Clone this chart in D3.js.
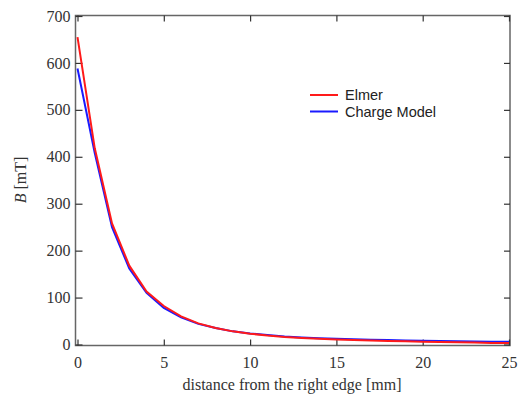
<!DOCTYPE html>
<html><head><meta charset="utf-8">
<script src="https://cdn.jsdelivr.net/npm/d3@7"></script>
<style>body{margin:0;background:#fff}svg{display:block}</style>
</head><body>
<svg id="c" width="521" height="396"></svg>
<script>
const distance = [0,1,2,3,4,5,6,7,8,9,10,11,12,13,14,15,16,17,18,19,20,21,22,23,24,25];
const elmer = [655,418,258,168,113,82,60,45,35,28,23,19,16,14,12,10.5,9.5,8.5,7.5,6.8,6,5.2,4.6,4,3.4,3];
const chargeModel = [588,408,250,162,110,78,58,44,35,28,23.5,20,17,15,13.5,12.2,11,10.2,9.4,8.6,8,7.4,6.9,6.4,6,5.7];
const xTicks = [0,5,10,15,20,25];
const yTicks = [0,100,200,300,400,500,600,700];
const seriesNames = ["Elmer","Charge Model"];
const seriesColors = ["#ff1a1a","#1a1aff"];

const svg = d3.select("#c");
const L=75.5, R=510, T=15.5, B=345.5;
const x = d3.scaleLinear().domain([0,25]).range([77.5,509]);
const y = d3.scaleLinear().domain([0,700]).range([344.5,16]);

// frame
svg.append("rect").attr("x",L).attr("y",T).attr("width",R-L).attr("height",B-T)
  .attr("fill","none").attr("stroke","#666").attr("stroke-width",1.5);

const serif = "'Liberation Serif','Times New Roman',serif";
// ticks
const gx = svg.append("g").attr("transform",`translate(0,${B})`)
  .call(d3.axisBottom(x).tickValues(xTicks).tickSize(-6).tickPadding(11));
const gxt = svg.append("g").attr("transform",`translate(0,${T})`)
  .call(d3.axisTop(x).tickValues(xTicks).tickSize(-6).tickFormat(""));
const gy = svg.append("g").attr("transform",`translate(${L},0)`)
  .call(d3.axisLeft(y).tickValues(yTicks).tickSize(-7).tickPadding(5));
const gyr = svg.append("g").attr("transform",`translate(${R},0)`)
  .call(d3.axisRight(y).tickValues(yTicks).tickSize(-6).tickFormat(""));
[gx,gxt,gy,gyr].forEach(g=>{
  g.select(".domain").remove();
  g.selectAll(".tick line").attr("stroke","#333").attr("stroke-width",1.2);
  g.selectAll("text").attr("font-family",serif).attr("font-size",16).attr("fill","#333");
});

// lines
const line = (vals)=>d3.line().x((d,i)=>x(distance[i])).y(d=>y(d))(vals);
svg.append("path").attr("d",line(chargeModel)).attr("fill","none")
  .attr("stroke",seriesColors[1]).attr("stroke-width",2);
svg.append("path").attr("d",line(elmer)).attr("fill","none")
  .attr("stroke",seriesColors[0]).attr("stroke-width",2);

// legend
const sans = "'Liberation Sans',Arial,sans-serif";
seriesNames.forEach((n,i)=>{
  const yy = 95 + i*16.5;
  svg.append("line").attr("x1",310).attr("x2",338).attr("y1",yy).attr("y2",yy)
    .attr("stroke",seriesColors[i]).attr("stroke-width",2);
  svg.append("text").attr("x",345).attr("y",yy+5).text(n)
    .attr("font-family",sans).attr("font-size",14.5).attr("fill","#222");
});

// axis labels
svg.append("text").attr("x",292).attr("y",390).attr("text-anchor","middle")
  .attr("font-family",serif).attr("font-size",16).attr("fill","#333")
  .text("distance from the right edge [mm]");
const yl = svg.append("text").attr("transform","translate(26,180) rotate(-90)")
  .attr("text-anchor","middle").attr("font-family",serif).attr("font-size",16).attr("fill","#333");
yl.append("tspan").attr("font-style","italic").text("B");
yl.append("tspan").text(" [mT]");
</script>
</body></html>
